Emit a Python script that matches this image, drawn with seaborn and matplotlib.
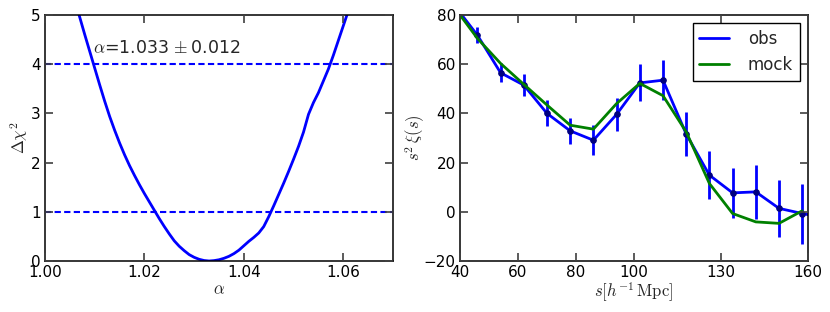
import numpy as np
import pandas as pd
import matplotlib
matplotlib.use("Agg")
import matplotlib.pyplot as plt
import seaborn as sns

# ----------------------------------------------------------
# data
# ----------------------------------------------------------

# left panel: delta chi^2 vs alpha
alpha = [1.004, 1.005, 1.006, 1.007, 1.008, 1.009, 1.010, 1.011, 1.012,
         1.013, 1.014, 1.015, 1.016, 1.017, 1.018, 1.019, 1.020, 1.021,
         1.022, 1.023, 1.024, 1.025, 1.026, 1.027, 1.028, 1.029, 1.030,
         1.031, 1.032, 1.033, 1.034, 1.035, 1.036, 1.037, 1.038, 1.039,
         1.040, 1.041, 1.042, 1.043, 1.044, 1.045, 1.046, 1.047, 1.048,
         1.049, 1.050, 1.051, 1.052, 1.053, 1.054, 1.055, 1.056, 1.057,
         1.058, 1.059, 1.060, 1.061, 1.062]
dchi2 = [6.00, 5.65, 5.30, 4.95, 4.60, 4.26, 3.92, 3.58, 3.25,
         2.94, 2.66, 2.40, 2.16, 1.94, 1.74, 1.55, 1.37, 1.20,
         1.03, 0.86, 0.70, 0.55, 0.41, 0.30, 0.21, 0.13, 0.075,
         0.035, 0.01, 0.0, 0.008, 0.025, 0.055, 0.095, 0.15, 0.22,
         0.31, 0.40, 0.48, 0.57, 0.70, 0.90, 1.12, 1.35, 1.58,
         1.82, 2.07, 2.33, 2.62, 2.98, 3.22, 3.42, 3.66, 3.90,
         4.18, 4.48, 4.78, 5.08, 5.40]
chi2_levels = [1, 4]
alpha_text = r"$\alpha$=1.033$\,\pm$0.012"

# right panel: s^2 xi(s)
s_obs = [38, 46, 54, 62, 70, 78, 86, 94, 102, 110, 118, 126, 134, 142, 150, 158, 166]
xi_obs = [84.0, 71.8, 56.5, 51.5, 40.0, 32.9, 29.1, 39.6, 52.4, 53.5, 31.6,
          14.9, 7.7, 8.1, 1.4, -0.7, -2.5]
err_obs = [3.0, 3.2, 3.8, 4.5, 5.3, 5.4, 6.0, 6.8, 7.5, 8.1, 8.9,
           9.8, 10.3, 11.1, 11.5, 12.2, 12.8]

s_mock = [38, 46, 54, 62, 70, 78, 86, 94, 102, 110, 118, 126, 134, 142, 150, 158]
xi_mock = [83.2, 70.5, 60.3, 51.8, 43.4, 35.2, 33.6, 44.0, 52.2, 47.2, 32.5,
           11.5, -0.7, -4.1, -4.7, 0.4]

left_xticks = [1.00, 1.02, 1.04, 1.06]
right_xticks = [40, 60, 80, 100, 130, 160]
right_yticks = [-20, 0, 20, 40, 60, 80]

BLUE = "#0000ff"
GREEN = "#008000"

# ----------------------------------------------------------
# style: old matplotlib look
# ----------------------------------------------------------

sns.set_style("ticks")
plt.rcParams.update({
    "font.family": ["DejaVu Sans"],
    "mathtext.fontset": "cm",
    "xtick.labelsize": 11,
    "ytick.labelsize": 11,
    "axes.linewidth": 1.1,
    "axes.edgecolor": "black",
    "axes.labelsize": 12,
    "axes.axisbelow": False,
})

fig = plt.figure(figsize=(8.3, 3.12), dpi=100)
ax1 = fig.add_axes([45 / 830, 51 / 312, 348 / 830, 246 / 312])
ax2 = fig.add_axes([460 / 830, 51 / 312, 348 / 830, 246 / 312])

# ----------------------------------------------------------
# left panel
# ----------------------------------------------------------

df_chi = pd.DataFrame({"alpha": alpha, "dchi2": dchi2})
sns.lineplot(data=df_chi, x="alpha", y="dchi2", ax=ax1, color=BLUE,
             lw=2, sort=False, estimator=None)
for lev in chi2_levels:
    ax1.axhline(lev, color=BLUE, lw=1.5, ls="--", dashes=(3, 1.6))
ax1.text(1.0097, 4.32, alpha_text, fontsize=12.5, va="center", ha="left")

ax1.set_xlim(1.00, 1.07)
ax1.set_ylim(0, 5)
ax1.set_xticks(left_xticks)
ax1.set_xticklabels([f"{t:.2f}" for t in left_xticks])
ax1.set_yticks(range(6))
ax1.set_xlabel(r"$\alpha$", labelpad=0)
ax1.set_ylabel(r"$\Delta\chi^2$", labelpad=1)

# ----------------------------------------------------------
# right panel
# ----------------------------------------------------------

df_obs = pd.DataFrame({"s": s_obs, "xi": xi_obs, "err": err_obs})
df_mock = pd.DataFrame({"s": s_mock, "xi": xi_mock})

ax2.errorbar(df_obs["s"], df_obs["xi"], yerr=df_obs["err"], fmt="none",
             ecolor=BLUE, elinewidth=2, capsize=0)
sns.lineplot(data=df_obs, x="s", y="xi", ax=ax2, color=BLUE, lw=2,
             marker="o", markersize=4, markeredgecolor="#000080",
             markerfacecolor="#000080", label="obs", estimator=None)
sns.lineplot(data=df_mock, x="s", y="xi", ax=ax2, color=GREEN, lw=2,
             label="mock", estimator=None)

ax2.set_xlim(40, 160)
ax2.set_ylim(-20, 80)
ax2.set_xticks(right_xticks)
ax2.set_yticks(right_yticks)
ax2.set_xlabel(r"$s[h^{-1}\,\mathrm{Mpc}]$", labelpad=0)
ax2.set_ylabel(r"$s^2\,\xi(s)$", labelpad=-2)

# legend with lines only (no markers)
handles = [plt.Line2D([], [], color=BLUE, lw=2),
           plt.Line2D([], [], color=GREEN, lw=2)]
leg = ax2.legend(handles, ["obs", "mock"], loc="upper right", fontsize=12,
                 fancybox=False, framealpha=1, edgecolor="black",
                 handlelength=1.8, handletextpad=1.1, borderaxespad=0.5)
leg.get_frame().set_linewidth(1.0)

# inward ticks on all four sides, spines all round
for ax in (ax1, ax2):
    ax.tick_params(which="major", direction="in", length=6, width=1.2,
                   color="#404040", labelcolor="black", pad=3,
                   top=True, right=True, bottom=True, left=True)
    for sp in ax.spines.values():
        sp.set_visible(True)

fig.savefig("out.png", dpi=100)
